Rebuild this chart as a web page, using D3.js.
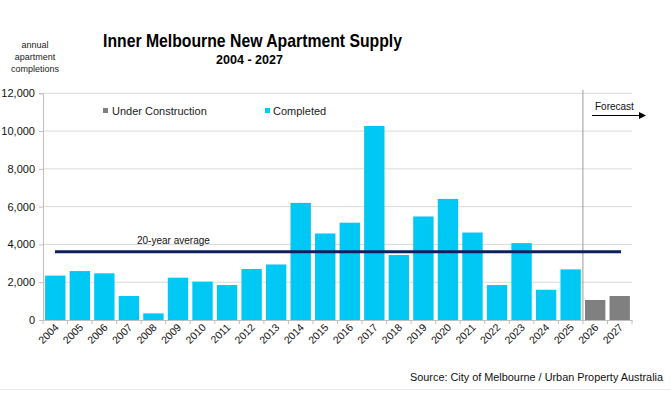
<!DOCTYPE html>
<html><head><meta charset="utf-8">
<script src="https://cdn.jsdelivr.net/npm/d3@7"></script>
<style>body{margin:0;background:#fff}svg{display:block;font-family:"Liberation Sans",Arial,sans-serif}</style>
</head><body><svg id="c" width="671" height="396"></svg>
<script>
const years = ["2004","2005","2006","2007","2008","2009","2010","2011","2012","2013","2014","2015","2016","2017","2018","2019","2020","2021","2022","2023","2024","2025","2026","2027"];
const completed = [2350,2590,2470,1270,350,2240,2030,1850,2700,2940,6200,4580,5150,10270,3440,5480,6410,4630,1850,4070,1600,2680,null,null];
const underConstruction = [null,null,null,null,null,null,null,null,null,null,null,null,null,null,null,null,null,null,null,null,null,null,1060,1270];
const average20 = 3610;
const yTicks = [0,2000,4000,6000,8000,10000,12000];
const forecastStart = "2026";

(function(){
const svg = d3.select("#c");
const mLeft = 43, mRight = 632, mTop = 93.3, mBottom = 320;
const x = d3.scaleBand().domain(years).range([mLeft, mRight]).paddingInner(0.17).paddingOuter(0.085);
const xb = d3.scaleBand().domain(years).range([mLeft, mRight]);
const y = d3.scaleLinear().domain([0,12000]).range([mBottom, mTop]);

svg.append("line").attr("x1",0).attr("x2",671).attr("y1",389.5).attr("y2",389.5).attr("stroke","#e6e9ee").attr("stroke-width",1);

svg.append("g").selectAll("line").data(yTicks.filter(d=>d>0)).join("line")
  .attr("x1",mLeft).attr("x2",mRight).attr("y1",d=>y(d)).attr("y2",d=>y(d))
  .attr("stroke","#d9d9d9").attr("stroke-width",1);

const ya = svg.append("g").attr("transform",`translate(${mLeft},0)`)
  .call(d3.axisLeft(y).tickValues(yTicks).tickFormat(d3.format(",")).tickSize(4).tickPadding(4));
ya.select(".domain").attr("stroke","#bfbfbf");
ya.selectAll(".tick line").attr("stroke","#bfbfbf");
ya.selectAll("text").attr("font-size",11).attr("fill","#111").attr("font-family","Liberation Sans, Arial, sans-serif");

svg.append("g").selectAll("rect").data(years.map((d,i)=>({year:d,v:completed[i]})).filter(d=>d.v!=null)).join("rect")
  .attr("x",d=>x(d.year)).attr("width",x.bandwidth()).attr("y",d=>y(d.v)).attr("height",d=>y(0)-y(d.v))
  .attr("fill","#00c8f5");
svg.append("g").selectAll("rect").data(years.map((d,i)=>({year:d,v:underConstruction[i]})).filter(d=>d.v!=null)).join("rect")
  .attr("x",d=>x(d.year)).attr("width",x.bandwidth()).attr("y",d=>y(d.v)).attr("height",d=>y(0)-y(d.v))
  .attr("fill","#808080");

const xa = svg.append("g").attr("transform",`translate(0,${mBottom})`)
  .call(d3.axisBottom(xb).tickSize(0).tickPadding(0));
xa.select(".domain").attr("stroke","#bfbfbf");
xa.selectAll(".tick text").attr("font-size",10.5).attr("fill","#111").attr("font-family","Liberation Sans, Arial, sans-serif")
  .attr("text-anchor","end").attr("dy","0").attr("transform","translate(4,8) rotate(-45)");
svg.append("g").selectAll("line").data(years.concat(["end"])).join("line")
  .attr("x1",(d,i)=>mLeft+i*xb.step()).attr("x2",(d,i)=>mLeft+i*xb.step())
  .attr("y1",mBottom).attr("y2",mBottom+4).attr("stroke","#bfbfbf");

const fx = xb(forecastStart);
svg.append("line").attr("x1",fx).attr("x2",fx).attr("y1",90).attr("y2",mBottom).attr("stroke","#9a9a9a").attr("stroke-width",1);
svg.append("text").attr("x",595).attr("y",110).attr("font-size",10).attr("fill","#111").text("Forecast");
svg.append("line").attr("x1",592).attr("x2",640).attr("y1",115.5).attr("y2",115.5).attr("stroke","#000").attr("stroke-width",1);
svg.append("path").attr("d","M646,115.5 L639,112 L639,119 Z").attr("fill","#000");

svg.append("line").attr("x1",55).attr("x2",621).attr("y1",y(average20)).attr("y2",y(average20))
  .attr("stroke","#0d1f5c").attr("stroke-width",3);
svg.append("text").attr("x",137).attr("y",y(average20)-8).attr("font-size",10).attr("fill","#111").text("20-year average");

svg.append("rect").attr("x",103).attr("y",108).attr("width",5).attr("height",5).attr("fill","#808080");
svg.append("text").attr("x",112).attr("y",115).attr("font-size",11).attr("fill","#222").text("Under Construction");
svg.append("rect").attr("x",265).attr("y",108).attr("width",5).attr("height",5).attr("fill","#00c8f5");
svg.append("text").attr("x",273).attr("y",115).attr("font-size",11).attr("fill","#222").text("Completed");

svg.append("text").attr("x",103).attr("y",47).attr("font-size",19).attr("font-weight","bold").attr("fill","#000")
  .attr("textLength",299).attr("lengthAdjust","spacingAndGlyphs").text("Inner Melbourne New Apartment Supply");
svg.append("text").attr("x",216).attr("y",64).attr("font-size",13).attr("font-weight","bold").attr("fill","#000")
  .attr("textLength",67).attr("lengthAdjust","spacingAndGlyphs").text("2004 - 2027");

const yl = svg.append("text").attr("font-size",9).attr("fill","#222").attr("text-anchor","middle");
["annual","apartment","completions"].forEach((t,i)=>yl.append("tspan").attr("x",35).attr("y",48+i*12).text(t));

svg.append("text").attr("x",663).attr("y",381).attr("text-anchor","end").attr("font-size",10).attr("fill","#111")
  .attr("textLength",253).attr("lengthAdjust","spacingAndGlyphs").text("Source: City of Melbourne / Urban Property Australia");
})();
</script></body></html>
